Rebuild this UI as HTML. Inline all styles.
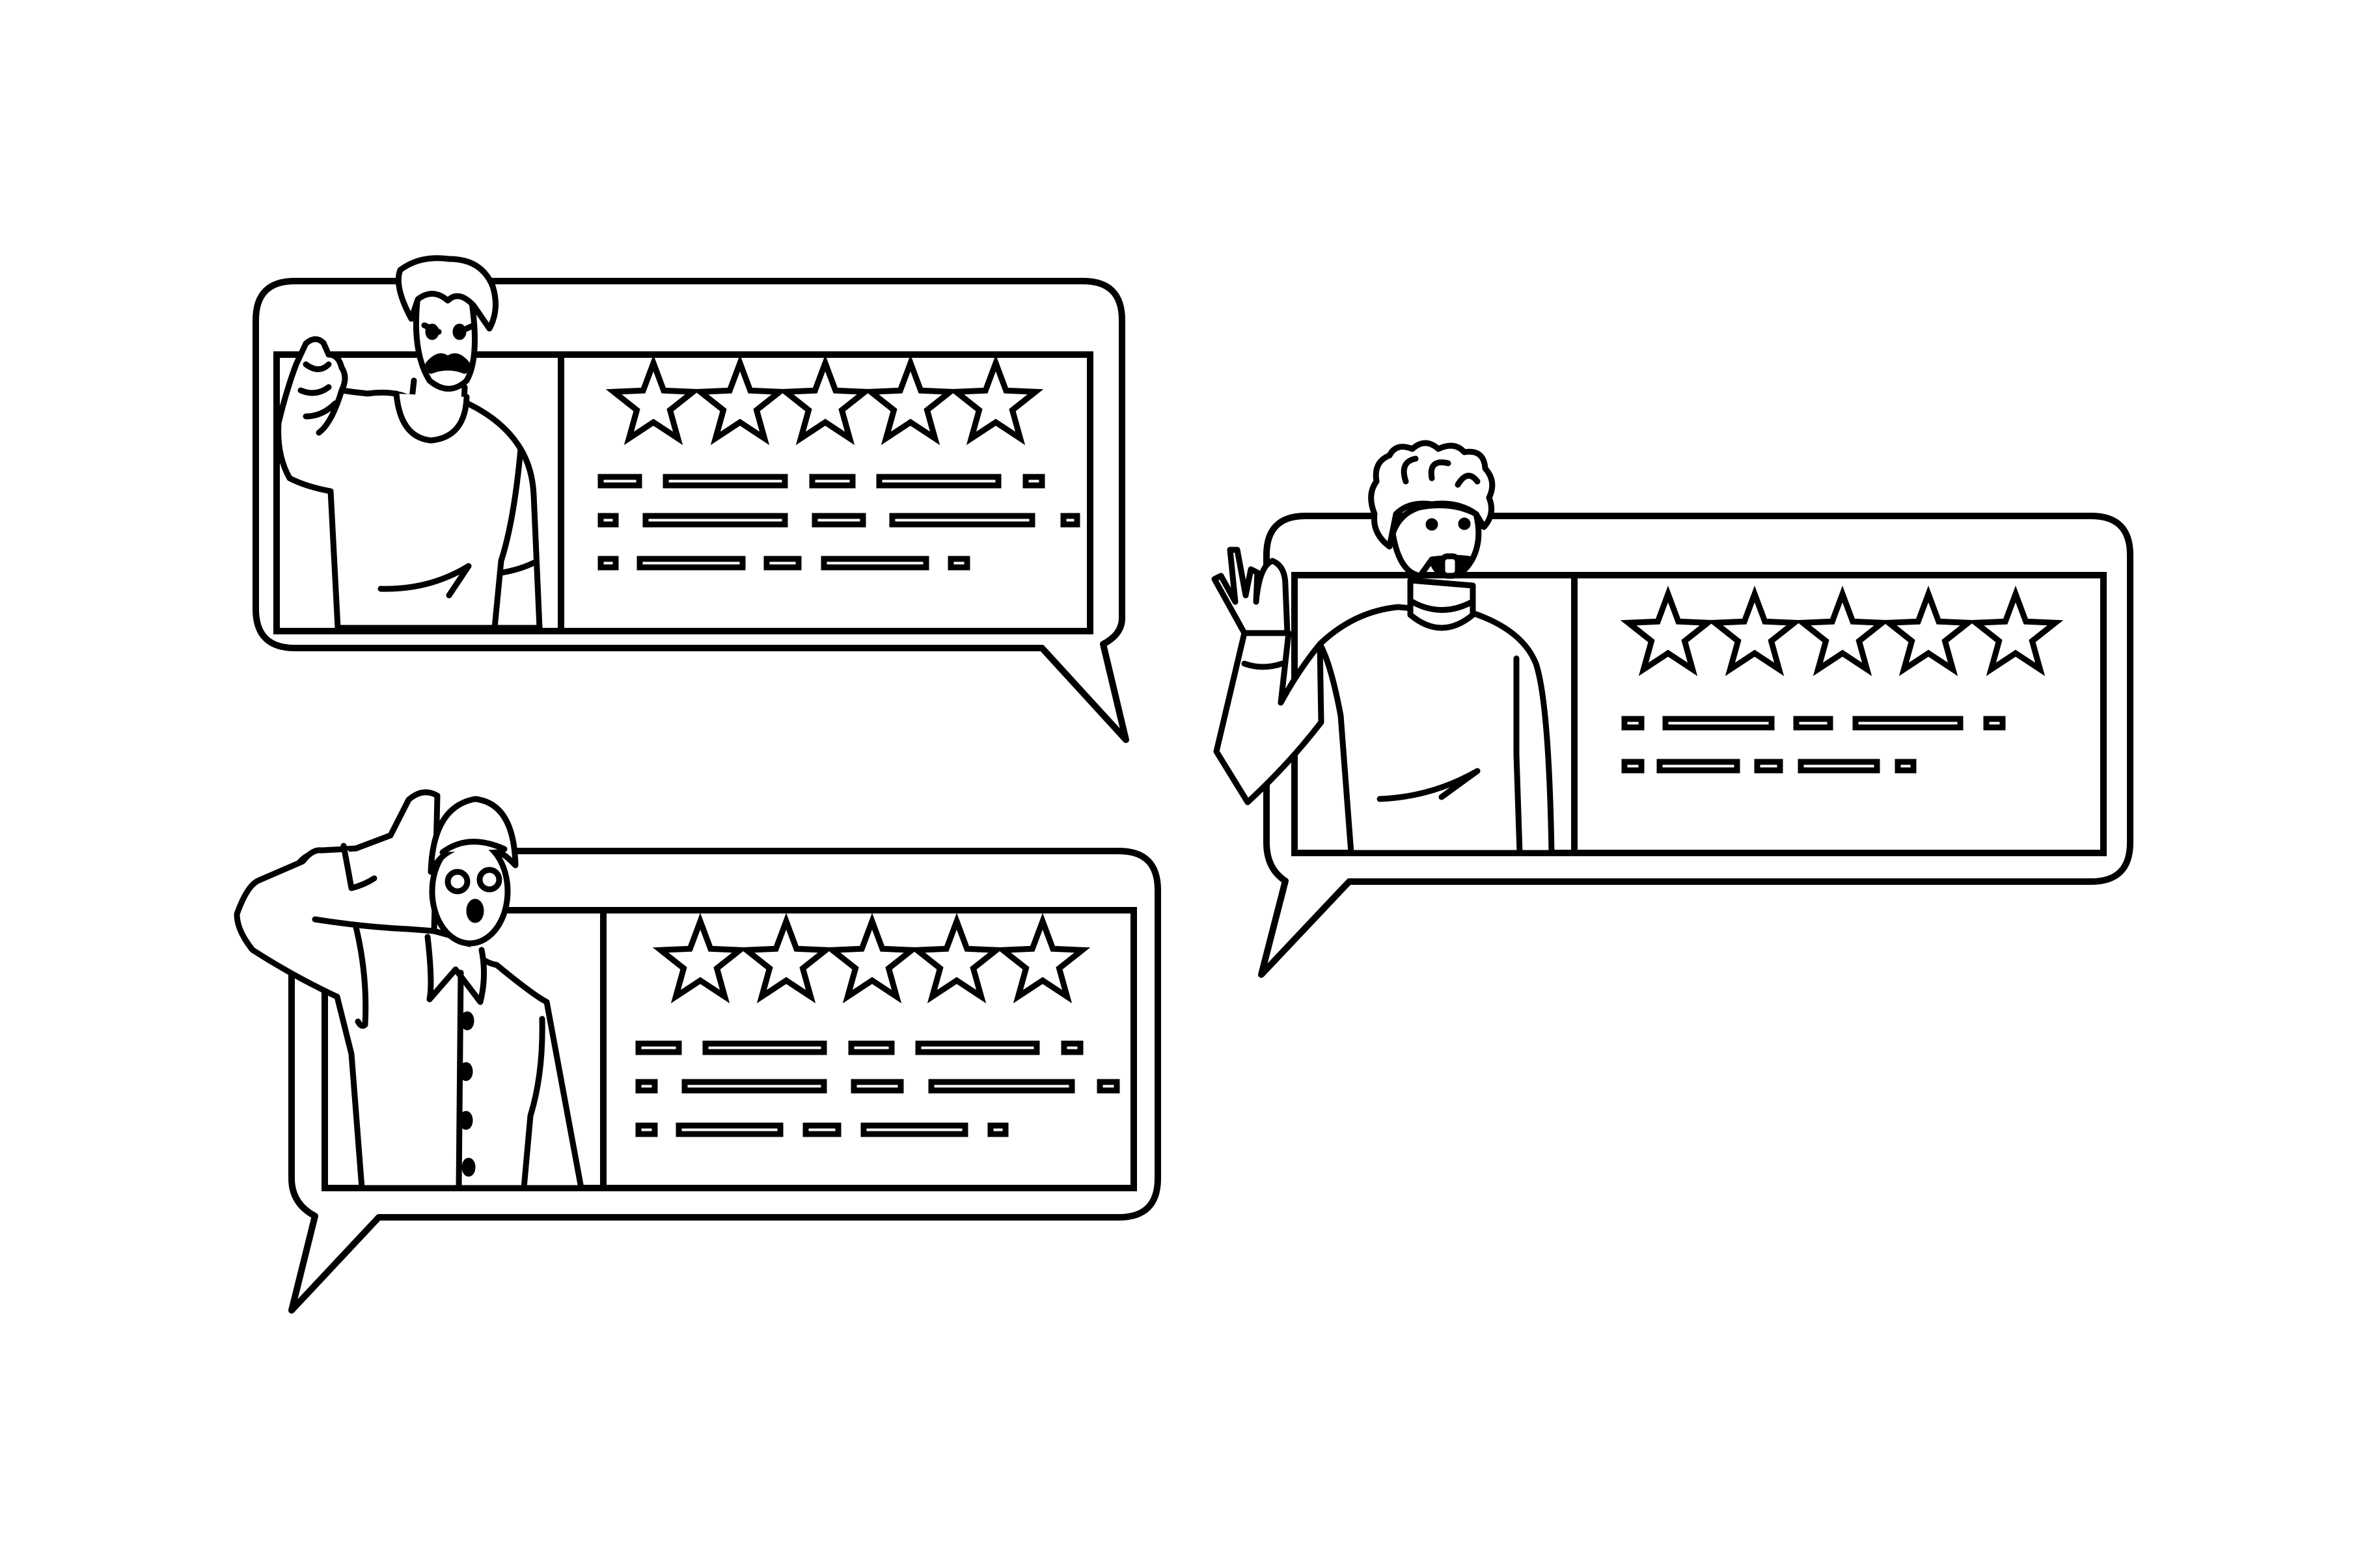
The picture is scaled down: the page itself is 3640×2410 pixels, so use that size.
<!DOCTYPE html>
<html><head><meta charset="utf-8"><style>html,body{margin:0;padding:0;background:#fff}svg{display:block}</style></head>
<body>
<svg width="3640" height="2410" viewBox="0 0 3640 2410" xmlns="http://www.w3.org/2000/svg">
<defs>
<polygon id="st" points="0,-64 15.8,-21.7 61,-19.8 25.5,8.3 37.6,51.8 0,27 -37.6,51.8 -25.5,8.3 -61,-19.8 -15.8,-21.7" fill="#fff" stroke="#000" stroke-width="9" stroke-linejoin="miter"/>
</defs>
<rect width="3640" height="2410" fill="#fff"/>
<g fill="#fff" stroke="#000" stroke-width="10" stroke-linejoin="round" stroke-linecap="round">
<!-- Bubble 1 -->
<path d="M453,432 H1664 Q1724,432 1724,492 V950 Q1724,975 1695,990 L1730,1137 L1601,996 H453 Q393,996 393,936 V492 Q393,432 453,432 Z"/>
<rect x="425" y="545" width="1250" height="425" stroke-linejoin="miter"/>
<line x1="862" y1="545" x2="862" y2="970"/>
<!-- Bubble 2 -->
<path d="M2006,793 H3213 Q3273,793 3273,853 V1295 Q3273,1355 3213,1355 H2073 L1938,1498 L1975,1354 Q1946,1335 1946,1295 V853 Q1946,793 2006,793 Z"/>
<rect x="1989" y="884" width="1243" height="427" stroke-linejoin="miter"/>
<line x1="2419" y1="884" x2="2419" y2="1311"/>
<!-- Bubble 3 -->
<path d="M508,1308 H1719 Q1779,1308 1779,1368 V1811 Q1779,1871 1719,1871 H582 L448,2014 L484,1869 Q448,1850 448,1811 V1368 Q448,1308 508,1308 Z"/>
<rect x="499" y="1399" width="1243" height="427" stroke-linejoin="miter"/>
<line x1="927" y1="1399" x2="927" y2="1826"/>
</g>

<!-- stars -->
<g>
<use href="#st" x="1004" y="622"/><use href="#st" x="1137" y="622"/><use href="#st" x="1268" y="622"/><use href="#st" x="1399" y="622"/><use href="#st" x="1530" y="622"/>
<use href="#st" x="2563" y="977"/><use href="#st" x="2696" y="977"/><use href="#st" x="2831" y="977"/><use href="#st" x="2963" y="977"/><use href="#st" x="3097" y="977"/>
<use href="#st" x="1076" y="1480"/><use href="#st" x="1208" y="1480"/><use href="#st" x="1340" y="1480"/><use href="#st" x="1470" y="1480"/><use href="#st" x="1602" y="1480"/>
</g>

<!-- bars -->
<g fill="#fff" stroke="#000" stroke-width="9">
<rect x="923" y="733" width="59" height="13"/><rect x="1023" y="733" width="183" height="13"/><rect x="1248" y="733" width="62" height="13"/><rect x="1351" y="733" width="183" height="13"/><rect x="1576" y="733" width="25" height="13"/>
<rect x="923" y="793" width="23" height="13"/><rect x="992" y="793" width="214" height="13"/><rect x="1252" y="793" width="74" height="13"/><rect x="1371" y="793" width="215" height="13"/><rect x="1634" y="793" width="21" height="13"/>
<rect x="923" y="859" width="23" height="13"/><rect x="983" y="859" width="158" height="13"/><rect x="1178" y="859" width="49" height="13"/><rect x="1266" y="859" width="157" height="13"/><rect x="1461" y="859" width="25" height="13"/>

<rect x="2496" y="1105" width="26" height="13"/><rect x="2559" y="1105" width="163" height="13"/><rect x="2760" y="1105" width="52" height="13"/><rect x="2851" y="1105" width="161" height="13"/><rect x="3052" y="1105" width="25" height="13"/>
<rect x="2496" y="1171" width="26" height="13"/><rect x="2550" y="1171" width="119" height="13"/><rect x="2700" y="1171" width="35" height="13"/><rect x="2767" y="1171" width="117" height="13"/><rect x="2916" y="1171" width="24" height="13"/>

<rect x="981" y="1604" width="62" height="13"/><rect x="1084" y="1604" width="182" height="13"/><rect x="1308" y="1604" width="62" height="13"/><rect x="1411" y="1604" width="182" height="13"/><rect x="1635" y="1604" width="25" height="13"/>
<rect x="981" y="1663" width="25" height="13"/><rect x="1052" y="1663" width="214" height="13"/><rect x="1312" y="1663" width="72" height="13"/><rect x="1431" y="1663" width="216" height="13"/><rect x="1690" y="1663" width="26" height="13"/>
<rect x="981" y="1730" width="25" height="13"/><rect x="1043" y="1730" width="156" height="13"/><rect x="1238" y="1730" width="50" height="13"/><rect x="1327" y="1730" width="156" height="13"/><rect x="1522" y="1730" width="23" height="13"/>
</g>

<!-- Person 1 -->
<g fill="#fff" stroke="#000" stroke-width="9" stroke-linejoin="round" stroke-linecap="round">
<path d="M519,965 L508,755 Q470,748 445,735 Q425,700 428,650 Q440,600 455,560 L470,528 Q485,515 497,527 L505,545 Q520,545 525,565 Q535,580 525,600 Q545,603 565,605 Q600,600 625,610 L700,612 Q770,640 800,690 Q818,720 820,760 L829,965 Z"/>
<path d="M470,560 Q490,575 505,560 M462,600 Q485,610 505,595 M470,640 Q495,640 515,620 M525,600 Q510,650 490,665"/>
<path d="M636,585 L630,640 Q665,672 712,640 L714,595"/>
<path d="M609,605 Q615,672 662,677 Q715,672 717,610"/>
<path d="M642,455 Q632,540 660,585 Q690,610 717,585 Q737,550 725,465 Q700,440 680,455 Q660,440 642,455 Z"/>
<path d="M632,490 Q605,440 615,415 Q645,392 690,398 Q740,398 757,440 Q768,475 752,505 L728,470 Q705,445 688,462 Q665,442 642,460 Z"/>
<path d="M652,500 l22,10 M728,500 l-22,10"/>
<ellipse cx="664" cy="510" rx="6" ry="8" fill="#000"/><ellipse cx="706" cy="510" rx="6" ry="8" fill="#000"/>
<path d="M658,560 Q675,540 688,552 Q702,540 718,560 L714,570 Q688,560 662,570 Z" fill="#000"/>
<path d="M585,905 Q660,907 720,870 L690,915"/>
<path d="M770,862 L760,965 M772,880 Q800,875 820,865"/>
<path d="M800,690 Q790,800 770,862"/>
</g>

<!-- Person 2 -->
<g fill="#fff" stroke="#000" stroke-width="9" stroke-linejoin="round" stroke-linecap="round">
<path d="M2076,1311 L2060,1100 Q2045,1020 2028,990 Q2080,940 2148,933 L2268,944 Q2340,970 2360,1020 Q2380,1080 2384,1311 Z"/>
<path d="M1912,973 L1869,1155 L1917,1233 Q1980,1175 2030,1110 L2028,990 Q1995,1030 1968,1080 L1980,973 Z"/>
<path d="M1912,973 L1866,890 L1876,885 L1898,925 L1890,845 L1901,845 L1914,915 L1922,875 L1932,880 L1930,925 Q1935,870 1955,862 Q1975,870 1975,900 L1978,973 Z"/>
<path d="M1912,1020 Q1940,1030 1970,1020"/>
<path d="M2167,892 L2167,945 Q2215,985 2263,945 L2263,900 Z"/>
<path d="M2170,925 Q2215,950 2262,925"/>
<path d="M2140,820 Q2150,880 2182,885 L2200,860 Q2240,855 2262,860 Q2278,830 2268,790 Q2230,770 2180,780 Q2150,790 2140,820 Z"/>
<path d="M2200,860 Q2205,880 2220,883 Q2245,890 2262,860 Q2250,870 2230,865 Z" fill="#000"/>
<rect x="2216" y="855" width="24" height="30" rx="8"/>
<path d="M2135,840 Q2108,820 2112,790 Q2100,760 2115,740 Q2110,710 2135,700 Q2145,680 2170,690 Q2190,672 2210,690 Q2235,678 2250,695 Q2280,690 2282,720 Q2300,740 2288,765 Q2298,790 2280,810 L2268,790 Q2240,770 2200,775 Q2165,770 2145,790 Z"/>
<path d="M2160,740 Q2150,710 2175,705 M2200,735 Q2195,705 2225,712 M2240,745 Q2255,720 2270,740"/>
<circle cx="2200" cy="806" r="5" fill="#000"/><circle cx="2250" cy="805" r="5" fill="#000"/>
<path d="M2120,1228 Q2200,1225 2270,1185 L2215,1225"/>
<path d="M2330,1012 Q2330,1100 2330,1160 L2335,1311"/>
</g>

<!-- Person 3 -->
<g fill="#fff" stroke="#000" stroke-width="9" stroke-linejoin="round" stroke-linecap="round">
<path d="M556,1826 L540,1620 L518,1532 Q450,1500 388,1460 Q364,1430 364,1405 Q380,1360 398,1353 L465,1324 Q480,1305 494,1307 L547,1304 L600,1284 L628,1229 Q650,1210 672,1223 L667,1431 L700,1440 Q740,1480 763,1483 Q820,1530 840,1540 L893,1826 Z"/>
<path d="M484,1413 Q560,1425 628,1428 L667,1431 M547,1425 Q565,1500 561,1575 Q555,1580 550,1570 M528,1300 L540,1365 Q560,1360 575,1350"/>
<path d="M657,1440 Q665,1510 660,1536 L700,1490 L738,1540 Q748,1500 740,1460"/>
<path d="M708,1495 L705,1826"/>
<ellipse cx="722" cy="1370" rx="58" ry="80"/>
<path d="M662,1340 Q665,1240 730,1228 Q790,1235 792,1330 Q760,1295 720,1298 Q680,1305 662,1340 Z"/>
<path d="M680,1310 Q720,1280 775,1305"/>
<circle cx="703" cy="1355" r="15"/><circle cx="752" cy="1352" r="15"/>
<ellipse cx="730" cy="1400" rx="9" ry="14" fill="#000"/>
<ellipse cx="718" cy="1569" rx="6" ry="10" fill="#000"/><ellipse cx="716" cy="1647" rx="6" ry="10" fill="#000"/><ellipse cx="716" cy="1722" rx="6" ry="10" fill="#000"/><ellipse cx="720" cy="1794" rx="6" ry="10" fill="#000"/>
<path d="M833,1566 Q835,1650 815,1715 L805,1826"/>
</g>
</svg>
</body></html>
